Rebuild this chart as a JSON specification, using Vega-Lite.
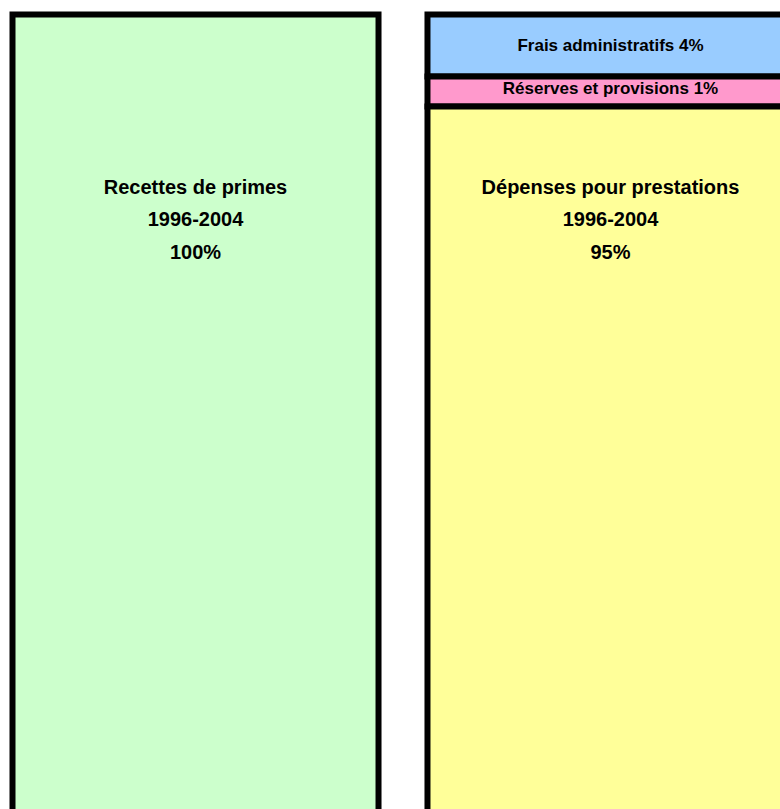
{
  "$schema": "https://vega.github.io/schema/vega-lite/v6.json",
  "width": 800,
  "height": 809,
  "autosize": "none",
  "padding": 0,
  "background": "white",
  "config": {"view": {"stroke": null}, "font": "Liberation Sans"},
  "data": {"values": [
    {"colonne": "Recettes", "segment": "Recettes de primes", "periode": "1996-2004", "pct": 100, "ordre": 1},
    {"colonne": "Dépenses", "segment": "Frais administratifs", "periode": "1996-2004", "pct": 4, "ordre": 1},
    {"colonne": "Dépenses", "segment": "Réserves et provisions", "periode": "1996-2004", "pct": 1, "ordre": 2},
    {"colonne": "Dépenses", "segment": "Dépenses pour prestations", "periode": "1996-2004", "pct": 95, "ordre": 3}
  ]},
  "encoding": {
    "x": {"field": "colonne", "type": "nominal", "sort": ["Recettes", "Dépenses"], "axis": null,
          "scale": {"range": [12.5, 793.5], "paddingInner": 0.118, "paddingOuter": 0}}
  },
  "layer": [
    {
      "mark": {"type": "bar", "stroke": "black", "strokeWidth": 6, "strokeJoin": "miter"},
      "encoding": {
        "y": {"field": "pct", "type": "quantitative", "stack": "zero", "axis": null,
              "scale": {"type": "pow", "exponent": 1.7686, "domain": [0, 100], "range": [14.5, 18405.5], "nice": false, "zero": true}},
        "order": {"field": "ordre", "type": "quantitative"},
        "color": {"field": "segment", "type": "nominal", "legend": null,
                  "scale": {"domain": ["Recettes de primes", "Frais administratifs", "Réserves et provisions", "Dépenses pour prestations"],
                            "range": ["#CCFFCC", "#99CCFF", "#FF99CC", "#FFFF99"]}}
      }
    },
    {
      "transform": [{"filter": "datum.segment == 'Frais administratifs'"}, {"calculate": "datum.segment + ' ' + datum.pct + '%'", "as": "etiquette"}],
      "mark": {"type": "text", "fontSize": 17, "fontWeight": "bold", "color": "black", "baseline": "middle", "align": "center"},
      "encoding": {"y": {"datum": 2.727, "type": "quantitative"}, "text": {"field": "etiquette"}}
    },
    {
      "transform": [{"filter": "datum.segment == 'Réserves et provisions'"}, {"calculate": "datum.segment + ' ' + datum.pct + '%'", "as": "etiquette"}],
      "mark": {"type": "text", "fontSize": 17, "fontWeight": "bold", "color": "black", "baseline": "middle", "align": "center"},
      "encoding": {"y": {"datum": 4.454, "type": "quantitative"}, "text": {"field": "etiquette"}}
    },
    {
      "transform": [{"filter": "datum.pct > 50"}, {"calculate": "[datum.segment, datum.periode, datum.pct + '%']", "as": "etiquette"}],
      "mark": {"type": "text", "fontSize": 20, "fontWeight": "bold", "color": "black", "baseline": "middle", "align": "center", "lineHeight": 32.5},
      "encoding": {"y": {"datum": 7.157, "type": "quantitative"}, "text": {"field": "etiquette"}}
    }
  ]
}
